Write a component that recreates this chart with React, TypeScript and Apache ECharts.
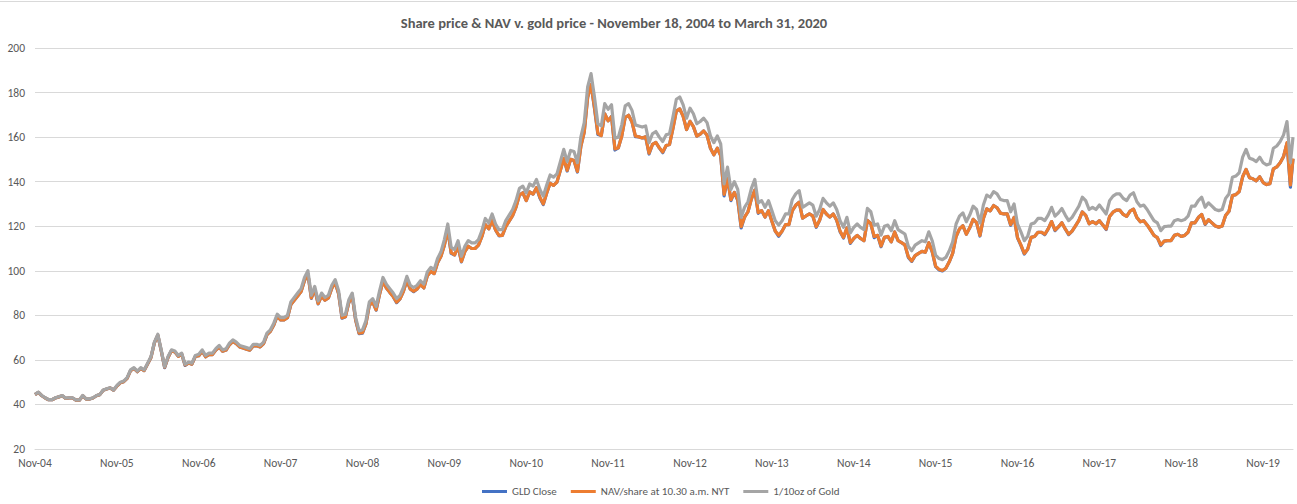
import React, { useEffect, useRef } from "react";
import * as echarts from "echarts";

const TITLE = "Share price & NAV v. gold price - November 18, 2004 to March 31, 2020";
const xTickLabels = [
  "Nov-04", "Nov-05", "Nov-06", "Nov-07", "Nov-08", "Nov-09", "Nov-10", "Nov-11",
  "Nov-12", "Nov-13", "Nov-14", "Nov-15", "Nov-16", "Nov-17", "Nov-18", "Nov-19",
];
const yTickValues = [20, 40, 60, 80, 100, 120, 140, 160, 180, 200];
const seriesNames = ["GLD Close", "NAV/share at 10.30 a.m. NYT", "1/10oz of Gold"];
const seriesColors = ["#4472C4", "#ED7D31", "#A5A5A5"];

// Observations every half month starting Nov 18, 2004 (x in years); last one is Mar 31, 2020
const END_YEARS = 15.365;
const STEP_YEARS = 1 / 24;

const goldTenth = [
  44.5, 45.5, 44.0, 43.0, 42.2, 42.2, 43.0, 43.5, 44.0, 42.8, 43.0, 43.0, 42.0, 42.0, 44.0, 42.5, 42.5, 43.0, 44.0, 44.5, 46.5, 47.0, 47.5, 46.5,
  48.5, 50.0, 50.5, 52.0, 55.5, 56.5, 55.0, 56.5, 55.5, 58.5, 61.5, 68.0, 71.5, 64.5, 57.0, 61.5, 64.5, 64.0, 62.0, 63.0, 58.0, 59.0, 58.5, 62.0,
  62.5, 64.5, 62.0, 63.0, 63.0, 65.0, 66.5, 64.5, 65.0, 67.5, 69.0, 68.0, 66.5, 66.0, 65.5, 65.0, 67.0, 67.0, 66.5, 68.0, 72.0, 73.5, 76.5, 80.5,
  79.0, 79.0, 80.0, 86.0, 88.0, 90.0, 92.0, 97.0, 100.0, 89.0, 93.0, 86.5, 90.0, 88.0, 89.0, 93.5, 96.0, 91.0, 80.0, 80.5, 87.0, 90.0, 79.0, 73.0,
  73.5, 77.5, 86.0, 87.5, 84.0, 91.0, 97.0, 94.0, 92.0, 90.0, 87.5, 89.0, 92.5, 97.5, 93.5, 92.5, 93.5, 95.5, 94.0, 99.5, 101.5, 100.5, 105.5, 108.5,
  114.0, 121.0, 110.5, 109.5, 113.5, 106.5, 111.0, 113.5, 112.5, 112.5, 114.0, 118.0, 123.5, 121.5, 125.5, 121.0, 118.5, 118.5, 122.5, 125.0, 127.5, 131.5, 137.0, 138.0,
  135.0, 139.0, 138.0, 141.0, 136.5, 133.5, 138.5, 143.0, 142.0, 143.5, 149.0, 154.5, 149.0, 154.0, 153.5, 148.5, 160.0, 166.5, 182.5, 188.5, 178.0, 166.0, 165.0, 175.0,
  172.5, 174.5, 159.5, 160.0, 165.5, 174.0, 175.0, 172.0, 165.5, 165.0, 164.5, 165.0, 157.5, 161.5, 162.5, 160.0, 158.0, 161.0, 161.5, 169.0, 177.0, 178.0, 174.5, 168.5,
  173.0, 170.5, 166.0, 167.0, 168.5, 166.5, 160.5, 157.5, 160.5, 157.0, 139.0, 146.5, 136.5, 140.0, 136.5, 124.0, 128.5, 131.0, 137.0, 141.0, 130.5, 131.5, 128.5, 131.5,
  127.0, 122.5, 120.5, 122.5, 125.5, 125.5, 132.0, 134.5, 136.0, 128.5, 129.5, 130.5, 129.5, 124.5, 127.5, 132.5, 130.5, 129.0, 130.5, 127.5, 122.5, 119.5, 124.0, 117.0,
  119.5, 121.0, 119.5, 118.5, 128.0, 126.5, 120.5, 121.0, 116.0, 120.0, 120.5, 118.0, 122.5, 118.5, 117.5, 116.5, 111.0, 109.0, 111.5, 112.5, 113.5, 113.0, 117.5, 113.5,
  107.0, 105.5, 105.0, 106.0, 109.0, 113.0, 121.0, 124.5, 126.0, 122.0, 125.0, 129.0, 127.5, 121.5, 129.5, 134.0, 133.0, 135.5, 134.5, 132.0, 131.5, 131.5, 126.5, 130.0,
  121.0, 117.5, 113.5, 115.5, 121.0, 121.5, 123.5, 123.5, 122.5, 125.0, 128.5, 124.5, 126.0, 128.0, 125.0, 122.5, 124.0, 126.5, 129.0, 133.0, 131.5, 127.5, 128.5, 127.5,
  129.5, 127.5, 125.5, 131.5, 133.5, 134.5, 134.5, 132.5, 131.5, 134.0, 135.0, 131.0, 129.0, 129.5, 127.5, 125.0, 122.5, 121.5, 118.0, 119.8, 120.0, 120.0, 122.5, 123.0,
  122.5, 123.0, 124.5, 129.0, 129.0, 131.5, 133.0, 128.5, 130.5, 129.0, 127.5, 127.0, 127.5, 132.5, 134.5, 142.0, 142.5, 144.0, 151.0, 154.5, 150.5, 150.0, 149.0, 151.0,
  148.5, 147.5, 148.0, 155.0, 156.0, 158.0, 161.0, 167.0, 148.5, 160.0,
];

const navShare = [
  44.4, 45.4, 43.9, 42.9, 42.1, 42.1, 42.9, 43.4, 43.9, 42.7, 42.9, 42.9, 41.9, 41.9, 43.9, 42.4, 42.4, 42.9, 43.9, 44.4, 46.4, 46.9, 47.4, 46.4,
  48.2, 49.7, 50.2, 51.7, 55.2, 56.2, 54.7, 56.2, 55.2, 58.1, 61.1, 67.6, 71.1, 64.1, 56.7, 61.1, 64.1, 63.6, 61.6, 62.6, 57.7, 58.6, 58.1, 61.6,
  61.9, 63.9, 61.4, 62.4, 62.4, 64.4, 65.8, 63.9, 64.4, 66.8, 68.3, 67.3, 65.8, 65.3, 64.8, 64.4, 66.3, 66.3, 65.8, 67.3, 71.3, 72.8, 75.7, 79.7,
  77.9, 77.9, 78.9, 84.8, 86.8, 88.7, 90.7, 95.6, 98.6, 87.8, 91.7, 85.3, 88.7, 86.8, 87.8, 92.2, 94.7, 89.7, 78.9, 79.4, 85.8, 88.7, 77.9, 72.0,
  72.2, 76.1, 84.5, 85.9, 82.5, 89.4, 95.3, 92.3, 90.3, 88.4, 85.9, 87.4, 90.8, 95.7, 91.8, 90.8, 91.8, 93.8, 92.3, 97.7, 99.7, 98.7, 103.6, 106.5,
  111.5, 118.3, 108.1, 107.1, 111.0, 104.2, 108.6, 111.0, 110.0, 110.0, 111.5, 115.4, 120.8, 118.8, 122.7, 118.3, 115.9, 115.9, 119.8, 122.3, 124.7, 128.6, 134.0, 135.0,
  131.5, 135.4, 134.4, 137.3, 133.0, 130.0, 134.9, 139.3, 138.3, 139.8, 145.1, 150.5, 145.1, 150.0, 149.5, 144.6, 155.8, 162.2, 177.8, 183.6, 173.4, 161.7, 160.7, 170.5,
  167.3, 169.3, 154.7, 155.2, 160.5, 168.8, 169.8, 166.8, 160.5, 160.1, 159.6, 160.1, 152.8, 156.7, 157.6, 155.2, 153.3, 156.2, 156.7, 163.9, 171.7, 172.7, 169.3, 163.4,
  167.1, 164.7, 160.4, 161.3, 162.8, 160.8, 155.0, 152.1, 155.0, 151.7, 134.3, 141.5, 131.9, 135.2, 131.9, 119.8, 124.1, 126.5, 132.3, 136.2, 126.1, 127.0, 124.1, 127.0,
  122.2, 117.8, 115.9, 117.8, 120.7, 120.7, 127.0, 129.4, 130.8, 123.6, 124.6, 125.5, 124.6, 119.8, 122.7, 127.5, 125.5, 124.1, 125.5, 122.7, 117.8, 115.0, 119.3, 112.6,
  114.5, 115.9, 114.5, 113.5, 122.6, 121.2, 115.4, 115.9, 111.1, 115.0, 115.4, 113.0, 117.4, 113.5, 112.6, 111.6, 106.3, 104.4, 106.8, 107.8, 108.7, 108.3, 112.6, 108.7,
  102.1, 100.6, 100.2, 101.1, 104.0, 107.8, 115.4, 118.8, 120.2, 116.4, 119.3, 123.1, 121.6, 115.9, 123.5, 127.8, 126.9, 129.3, 128.3, 125.9, 125.5, 125.5, 120.7, 124.0,
  115.0, 111.6, 107.8, 109.7, 115.0, 115.4, 117.3, 117.3, 116.4, 118.8, 122.1, 118.3, 119.7, 121.6, 118.8, 116.4, 117.8, 120.2, 122.6, 126.4, 124.9, 121.1, 122.1, 121.1,
  122.5, 120.6, 118.7, 124.4, 126.3, 127.2, 127.2, 125.3, 124.4, 126.8, 127.7, 123.9, 122.0, 122.5, 120.6, 118.3, 115.9, 114.9, 111.6, 113.3, 113.5, 113.5, 115.9, 116.4,
  115.4, 115.9, 117.3, 121.5, 121.5, 123.9, 125.3, 121.0, 122.9, 121.5, 120.1, 119.6, 120.1, 124.8, 126.7, 133.8, 134.2, 135.6, 142.2, 145.5, 141.8, 141.3, 140.4, 142.2,
  139.6, 138.7, 139.1, 145.7, 146.6, 148.5, 151.3, 157.5, 138.5, 150.4,
];

const gldClose = [
  44.4, 45.4, 43.9, 42.9, 42.1, 42.1, 42.9, 43.4, 43.9, 42.7, 42.9, 42.9, 41.9, 41.9, 43.9, 42.4, 42.4, 42.9, 43.9, 44.4, 46.4, 46.9, 47.4, 46.4,
  48.2, 49.7, 50.2, 51.7, 55.2, 56.2, 54.7, 56.2, 55.2, 58.1, 61.1, 67.6, 71.1, 64.1, 56.5, 61.1, 64.1, 63.6, 61.6, 62.6, 57.5, 58.6, 58.1, 61.6,
  61.9, 63.9, 61.4, 62.4, 62.4, 64.4, 65.8, 63.9, 64.4, 66.8, 68.3, 67.3, 65.8, 65.3, 64.8, 64.4, 66.3, 66.3, 65.8, 67.3, 71.3, 72.8, 75.7, 79.7,
  77.9, 77.9, 78.9, 84.8, 86.8, 88.7, 90.7, 95.6, 98.6, 87.6, 91.7, 85.1, 88.7, 86.8, 87.8, 92.2, 94.7, 89.7, 78.7, 79.4, 85.8, 88.7, 77.7, 71.8,
  72.0, 76.1, 84.5, 85.9, 82.3, 89.4, 95.3, 92.3, 90.3, 88.4, 85.7, 87.4, 90.8, 95.7, 91.8, 90.6, 91.8, 93.8, 92.3, 97.7, 99.7, 98.7, 103.6, 106.5,
  111.5, 118.3, 107.8, 107.1, 111.0, 104.0, 108.6, 111.0, 110.0, 110.0, 111.5, 115.4, 120.8, 118.8, 122.7, 118.3, 115.7, 115.9, 119.8, 122.3, 124.7, 128.6, 134.0, 135.0,
  131.5, 135.4, 134.4, 137.3, 132.7, 129.7, 134.9, 139.3, 138.3, 139.8, 145.1, 150.5, 144.8, 150.0, 149.5, 144.3, 155.8, 162.2, 177.8, 183.6, 172.8, 161.2, 160.7, 170.5,
  167.3, 169.3, 154.2, 155.2, 160.5, 168.8, 169.8, 166.8, 160.2, 160.1, 159.6, 160.1, 152.4, 156.7, 157.6, 155.2, 153.0, 156.2, 156.7, 163.9, 171.7, 172.7, 169.3, 163.4,
  167.1, 164.7, 160.4, 161.3, 162.8, 160.8, 155.0, 152.1, 155.0, 151.7, 133.6, 141.5, 131.5, 135.2, 131.6, 119.2, 124.1, 126.5, 132.3, 136.2, 125.8, 127.0, 124.1, 127.0,
  122.2, 117.8, 115.5, 117.8, 120.7, 120.7, 127.0, 129.4, 130.8, 123.6, 124.6, 125.5, 124.6, 119.5, 122.7, 127.5, 125.5, 124.1, 125.5, 122.7, 117.5, 114.7, 119.3, 112.3,
  114.5, 115.9, 114.5, 113.5, 122.6, 121.2, 114.9, 115.9, 110.8, 115.0, 115.4, 113.0, 117.4, 113.5, 112.6, 111.6, 106.0, 104.2, 106.8, 107.8, 108.7, 108.3, 112.6, 108.5,
  101.9, 100.4, 99.9, 101.1, 104.0, 107.8, 115.4, 118.8, 120.2, 116.4, 119.3, 123.1, 121.6, 115.6, 123.5, 127.8, 126.9, 129.3, 128.3, 125.9, 125.5, 125.5, 120.4, 124.0,
  114.8, 111.4, 107.5, 109.7, 115.0, 115.4, 117.3, 117.3, 116.2, 118.8, 122.1, 118.0, 119.7, 121.6, 118.8, 116.2, 117.8, 120.2, 122.6, 126.4, 124.9, 121.1, 122.1, 121.1,
  122.5, 120.6, 118.5, 124.4, 126.3, 127.2, 127.2, 125.3, 124.4, 126.8, 127.7, 123.9, 122.0, 122.5, 120.6, 118.3, 115.9, 114.9, 111.3, 113.3, 113.5, 113.5, 115.9, 116.4,
  115.4, 115.9, 117.3, 121.5, 121.5, 123.9, 125.3, 120.8, 122.9, 121.5, 120.1, 119.6, 120.1, 124.8, 126.7, 133.8, 134.2, 135.6, 142.2, 145.5, 141.8, 141.3, 140.4, 142.2,
  139.6, 138.7, 139.1, 145.7, 146.6, 148.5, 151.3, 157.2, 137.5, 150.2,
];

const FONT = "Carlito, Calibri, Lato, 'Open Sans', sans-serif";

function toPoints(values: number[]): [number, number][] {
  return values.map((v, i) => [Math.min(i * STEP_YEARS, END_YEARS), v]);
}

export default function App() {
  const ref = useRef<HTMLDivElement>(null);

  useEffect(() => {
    document.body.style.margin = "0";
    if (!ref.current) return;
    const chart = echarts.init(ref.current, undefined, { renderer: "svg" });
    const datasets = [gldClose, navShare, goldTenth];

    chart.setOption({
      animation: false,
      backgroundColor: "#ffffff",
      textStyle: { fontFamily: FONT },
      graphic: [
        {
          type: "line",
          shape: { x1: 0, y1: 1.5, x2: 1297, y2: 1.5 },
          style: { stroke: "#d9d9d9", lineWidth: 1 },
          silent: true,
        },
        {
          type: "text",
          x: 614,
          y: 23,
          style: {
            text: TITLE,
            fill: "#595959",
            font: `bold 14.5px ${FONT}`,
            textAlign: "center",
            textVerticalAlign: "middle",
          },
        },
      ],
      legend: {
        top: 481,
        left: 477,
        itemWidth: 25,
        itemHeight: 3,
        itemGap: 14,
        textStyle: { color: "#595959", fontSize: 11, fontFamily: FONT },
        data: seriesNames.map((name) => ({ name, icon: "rect" })),
      },
      grid: { left: 35, right: 4, top: 48, bottom: 55, containLabel: false },
      xAxis: {
        type: "value",
        min: 0,
        max: END_YEARS,
        interval: 1,
        axisLine: { show: true, lineStyle: { color: "#d9d9d9", width: 1 } },
        axisTick: { show: false },
        splitLine: { show: false },
        axisLabel: {
          color: "#595959",
          fontSize: 11.5,
          fontFamily: FONT,
          margin: 8,
          showMaxLabel: false,
          formatter: (v: number) => {
            const r = Math.round(v);
            return Math.abs(v - r) < 1e-6 && xTickLabels[r] ? xTickLabels[r] : "";
          },
        },
      },
      yAxis: {
        type: "value",
        min: yTickValues[0],
        max: yTickValues[yTickValues.length - 1],
        interval: yTickValues[1] - yTickValues[0],
        axisLine: { show: false },
        axisTick: { show: false },
        splitLine: { show: true, lineStyle: { color: "#d9d9d9", width: 1 } },
        axisLabel: { color: "#595959", fontSize: 11.5, fontFamily: FONT, margin: 10 },
      },
      series: seriesNames.map((name, k) => ({
        name,
        type: "line",
        data: toPoints(datasets[k]),
        showSymbol: false,
        symbol: "none",
        lineStyle: { color: seriesColors[k], width: 3.2, join: "round" },
        itemStyle: { color: seriesColors[k] },
        emphasis: { disabled: true },
        z: 2 + k,
      })),
    });

    return () => {
      chart.dispose();
    };
  }, []);

  return <div ref={ref} style={{ width: 1297, height: 504 }} />;
}
